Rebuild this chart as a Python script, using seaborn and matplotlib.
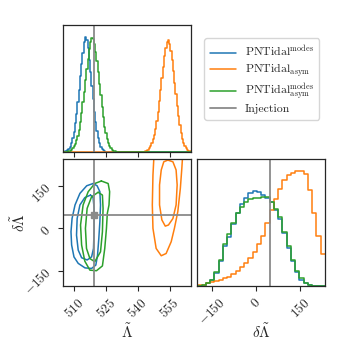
import numpy as np
import pandas as pd
import matplotlib
matplotlib.use("Agg")
import matplotlib.pyplot as plt
from matplotlib.lines import Line2D
import seaborn as sns

# ---- data ----
labels = [r"$\mathrm{PNTidal}^{\mathrm{modes}}$",
          r"$\mathrm{PNTidal}_{\mathrm{asym}}$",
          r"$\mathrm{PNTidal}^{\mathrm{modes}}_{\mathrm{asym}}$",
          "Injection"]
colors = ["#1f77b4", "#ff7f0e", "#2ca02c"]

inj_lam = 519.5
inj_dlam = 49.0

lam_range = (505.0, 565.0)
lam_nbins = 100
dlam_range = (-200.0, 235.0)
dlam_nbins = 30

lam_ticks = [510, 525, 540, 555]
dlam_ticks = [-150, 0, 150]

# 1D Lambda~ histograms (left edge of first filled bin + heights)
lam_blue_start = 505.6
lam_blue = [0.004, 0.008, 0.015, 0.028, 0.045, 0.075, 0.12, 0.17, 0.25, 0.33,
            0.43, 0.54, 0.66, 0.76, 0.86, 0.95, 1.0, 0.97, 0.90, 0.80,
            0.69, 0.57, 0.46, 0.35, 0.26, 0.18, 0.12, 0.075, 0.045, 0.026,
            0.014, 0.007, 0.003]
lam_green_start = 506.8
lam_green = [0.003, 0.006, 0.011, 0.019, 0.03, 0.048, 0.07, 0.10, 0.14, 0.19,
             0.26, 0.34, 0.43, 0.52, 0.62, 0.72, 0.81, 0.89, 0.95, 0.99,
             0.98, 0.94, 0.87, 0.79, 0.69, 0.59, 0.49, 0.39, 0.30, 0.22,
             0.16, 0.11, 0.075, 0.05, 0.03, 0.018, 0.01, 0.005]
lam_orange_start = 542.8
lam_orange = [0.003, 0.006, 0.011, 0.02, 0.033, 0.05, 0.075, 0.11, 0.15, 0.20,
              0.27, 0.35, 0.44, 0.54, 0.64, 0.74, 0.83, 0.90, 0.95, 0.97,
              0.94, 0.88, 0.80, 0.70, 0.60, 0.50, 0.40, 0.31, 0.23, 0.16,
              0.11, 0.075, 0.05, 0.03, 0.018, 0.01, 0.005]

# 1D delta Lambda~ histograms (all 30 bins)
dlam_blue = [0.0, 0.003, 0.02, 0.05, 0.10, 0.20, 0.32, 0.39, 0.49, 0.58,
             0.65, 0.70, 0.74, 0.757, 0.745, 0.72, 0.70, 0.665, 0.60, 0.535,
             0.42, 0.30, 0.20, 0.11, 0.05, 0.02, 0.005, 0.0, 0.0, 0.0]
dlam_orange = [0.005, 0.01, 0.02, 0.03, 0.04, 0.05, 0.06, 0.075, 0.095, 0.12,
               0.15, 0.18, 0.22, 0.27, 0.33, 0.40, 0.50, 0.60, 0.69, 0.77,
               0.84, 0.88, 0.90, 0.91, 0.915, 0.89, 0.76, 0.58, 0.40, 0.25]
dlam_green = [0.0, 0.005, 0.02, 0.05, 0.11, 0.21, 0.33, 0.41, 0.50, 0.58,
              0.63, 0.67, 0.69, 0.70, 0.70, 0.71, 0.705, 0.67, 0.61, 0.545,
              0.43, 0.32, 0.21, 0.12, 0.06, 0.025, 0.008, 0.0, 0.0, 0.0]

# 2D credible contours (Lambda~, delta Lambda~)
blue_outer_lam = [519.0, 520.9, 522.2, 522.5, 522.2, 521.7, 521.1, 520.3, 518.3,
                  515.2, 512.0, 510.0, 508.9, 508.6, 509.1, 510.5, 512.8, 516.0]
blue_outer_dlam = [159, 151, 130, 83, 24, -36, -95, -130, -142,
                   -140, -124, -101, -59, -12, 35, 83, 124, 151]
blue_inner_lam = [517.8, 519.0, 519.5, 519.5, 519.2, 518.3, 516.2, 513.6, 512.0,
                  511.2, 511.5, 512.8, 515.1]
blue_inner_dlam = [118, 109, 71, 0, -71, -101, -112, -104, -77, -24, 35, 83, 109]
green_outer_lam = [522.9, 526.1, 526.8, 526.5, 525.7, 525.3, 524.5, 523.4, 520.6,
                   517.5, 515.1, 513.6, 513.1, 514.3, 516.7, 519.8]
green_outer_dlam = [168, 159, 130, 83, 53, 0, -71, -133, -150,
                    -148, -116, -59, 12, 83, 130, 159]
green_inner_lam = [521.4, 523.4, 523.7, 523.4, 522.5, 519.8, 517.5, 515.9, 515.4,
                   516.2, 518.3]
green_inner_dlam = [128, 118, 71, -12, -83, -118, -107, -71, 0, 71, 112]
orange_outer_lam = [547.7, 547.2, 546.9, 547.2, 548.7, 551.1, 553.4, 555.8, 557.3,
                    558.9, 560.1, 560.8, 561.2, 559.7, 554.2, 548.7]
orange_outer_dlam = [260, 189, 83, 0, -71, -97, -89, -47, 0,
                     59, 142, 213, 260, 307, 331, 307]
orange_inner_lam = [554.2, 556.6, 558.1, 558.6, 558.1, 556.6, 554.5, 553.0, 551.4,
                    550.3, 550.3, 551.1, 552.3]
orange_inner_dlam = [242, 236, 207, 154, 83, 35, 12, 8, 30, 83, 154, 207, 236]

# ---- style ----
sns.set_style("ticks")
plt.rcParams.update({
    "font.family": "serif",
    "font.serif": ["cmr10", "DejaVu Serif"],
    "mathtext.fontset": "cm",
    "axes.formatter.use_mathtext": True,
    "xtick.labelsize": 9.5,
    "ytick.labelsize": 9.5,
    "xtick.major.size": 3.5,
    "ytick.major.size": 3.5,
    "axes.linewidth": 0.9,
})

fig = plt.figure(figsize=(3.5, 3.5), dpi=100)
ax_top = fig.add_axes([0.181, 0.566, 0.364, 0.362])
ax_2d = fig.add_axes([0.181, 0.183, 0.364, 0.362])
ax_rt = fig.add_axes([0.564, 0.183, 0.364, 0.362])

lw = 1.1
inj_color = "#8a8a8a"


def step_hist(ax, start, heights, rng, nbins, color):
    width = (rng[1] - rng[0]) / nbins
    df = pd.DataFrame({"x": start + width * (np.arange(len(heights)) + 0.5),
                       "w": heights})
    sns.histplot(data=df, x="x", weights="w", bins=nbins, binrange=rng,
                 element="step", fill=False, color=color, linewidth=lw, ax=ax)


# top: Lambda~ marginal
step_hist(ax_top, lam_blue_start, lam_blue, lam_range, lam_nbins, colors[0])
step_hist(ax_top, lam_orange_start, lam_orange, lam_range, lam_nbins, colors[1])
step_hist(ax_top, lam_green_start, lam_green, lam_range, lam_nbins, colors[2])
ax_top.axvline(inj_lam, color=inj_color, lw=1.3)
ax_top.set_xlim(*lam_range)
ax_top.set_ylim(0, 1.1 * max(lam_blue + lam_green + lam_orange))
ax_top.set_xticks(lam_ticks)
ax_top.set_xticklabels([])
ax_top.set_yticks([])
ax_top.set_xlabel("")
ax_top.set_ylabel("")

# right: delta Lambda~ marginal
step_hist(ax_rt, dlam_range[0], dlam_blue, dlam_range, dlam_nbins, colors[0])
step_hist(ax_rt, dlam_range[0], dlam_orange, dlam_range, dlam_nbins, colors[1])
step_hist(ax_rt, dlam_range[0], dlam_green, dlam_range, dlam_nbins, colors[2])
ax_rt.axvline(inj_dlam, color=inj_color, lw=1.3)
ax_rt.set_xlim(*dlam_range)
ax_rt.set_ylim(0, 1.1 * max(dlam_blue + dlam_green + dlam_orange))
ax_rt.set_xticks(dlam_ticks)
ax_rt.set_yticks([])
ax_rt.set_ylabel("")
ax_rt.set_xlabel(r"$\delta\tilde{\Lambda}$", fontsize=11)
ax_rt.xaxis.set_label_coords(0.5, -0.29)
for t in ax_rt.get_xticklabels():
    t.set_rotation(45)

# 2D contours
contours = [
    (blue_outer_lam, blue_outer_dlam, colors[0]),
    (blue_inner_lam, blue_inner_dlam, colors[0]),
    (orange_outer_lam, orange_outer_dlam, colors[1]),
    (orange_inner_lam, orange_inner_dlam, colors[1]),
    (green_outer_lam, green_outer_dlam, colors[2]),
    (green_inner_lam, green_inner_dlam, colors[2]),
]
for xs, ys, c in contours:
    ax_2d.plot(xs + xs[:1], ys + ys[:1], color=c, lw=lw)
ax_2d.axvline(inj_lam, color=inj_color, lw=1.3)
ax_2d.axhline(inj_dlam, color=inj_color, lw=1.3)
ax_2d.plot([inj_lam], [inj_dlam], "s", color=inj_color, ms=5)
ax_2d.set_xlim(*lam_range)
ax_2d.set_ylim(-204, 245)
ax_2d.set_xticks(lam_ticks)
ax_2d.set_yticks(dlam_ticks)
for t in ax_2d.get_xticklabels() + ax_2d.get_yticklabels():
    t.set_rotation(45)
ax_2d.set_xlabel(r"$\tilde{\Lambda}$", fontsize=11)
ax_2d.set_ylabel(r"$\delta\tilde{\Lambda}$", fontsize=11)
ax_2d.xaxis.set_label_coords(0.5, -0.29)
ax_2d.yaxis.set_label_coords(-0.28, 0.5)

handles = [Line2D([], [], color=c, lw=lw) for c in colors]
handles.append(Line2D([], [], color=inj_color, lw=1.3))
fig.legend(handles, labels, loc="upper left", bbox_to_anchor=(0.567, 0.907),
           fontsize=8.5, frameon=True, labelspacing=0.2, handlelength=2.2,
           handletextpad=0.8, borderpad=0.45)

fig.savefig("out.png", dpi=100)
plt.close(fig)
